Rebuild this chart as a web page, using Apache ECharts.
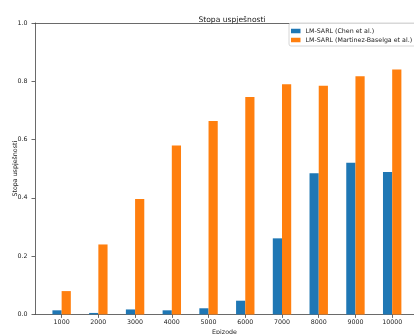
<!DOCTYPE html>
<html><head><meta charset="utf-8">
<script src="https://cdn.jsdelivr.net/npm/echarts@6/dist/echarts.min.js"></script>
<style>html,body{margin:0;padding:0;background:#fff}#c{width:414px;height:334px}</style>
</head><body><div id="c"></div>
<script>
const episodes = [1000, 2000, 3000, 4000, 5000, 6000, 7000, 8000, 9000, 10000];
const chenValues = [0.014, 0.005, 0.017, 0.014, 0.021, 0.047, 0.261, 0.484, 0.520, 0.489];
const martinezValues = [0.080, 0.240, 0.396, 0.580, 0.664, 0.746, 0.790, 0.785, 0.817, 0.840];
const yTicks = [0, 0.2, 0.4, 0.6, 0.8, 1.0];
const seriesNames = ['LM-SARL (Chen et al.)', 'LM-SARL (Martinez-Baselga et al.)'];
const titleText = 'Stopa uspješnosti';
const xName = 'Epizode';
const yName = 'Stopa uspješnosti';

const FONT = 'DejaVu Sans';
const axisCol = '#444';
const txtCol = '#222';
const xMin = 275, xMax = 10594;
const chart = echarts.init(document.getElementById('c'), null, {renderer: 'canvas'});
chart.setOption({
  animation: false,
  backgroundColor: '#fff',
  textStyle: {fontFamily: FONT},
  title: {
    text: titleText, left: 227, top: 11, textAlign: 'center',
    textStyle: {fontFamily: FONT, fontSize: 7.6, fontWeight: 'normal', color: txtCol}
  },
  legend: {
    data: seriesNames, orient: 'vertical', left: 289, top: 23,
    itemWidth: 9.5, itemHeight: 4.5, itemGap: 1, icon: 'rect',
    padding: [4, 8, 2, 2],
    borderColor: '#ccc', borderWidth: 0.8, borderRadius: 2,
    backgroundColor: 'rgba(255,255,255,0.8)',
    textStyle: {fontFamily: FONT, fontSize: 6.3, lineHeight: 8, color: txtCol}
  },
  grid: {left: 35, top: 23, right: 0, height: 291.4, containLabel: false, outerBoundsMode: 'none'},
  xAxis: [{
    type: 'value', min: xMin, max: xMax,
    name: xName, nameLocation: 'middle', nameGap: 12,
    nameTextStyle: {fontFamily: FONT, fontSize: 6.3, color: txtCol},
    splitLine: {show: false},
    axisLine: {show: true, lineStyle: {color: axisCol, width: 0.8}},
    axisTick: {show: true, length: 3.5, customValues: episodes, lineStyle: {color: axisCol, width: 0.8}},
    axisLabel: {customValues: episodes, formatter: v => String(v), margin: 4.5, fontFamily: FONT, fontSize: 6.3, color: txtCol}
  }, {
    type: 'value', min: xMin, max: xMax, position: 'top',
    splitLine: {show: false},
    axisLine: {show: true, lineStyle: {color: axisCol, width: 0.8}},
    axisTick: {show: false}, axisLabel: {show: false}
  }],
  yAxis: {
    type: 'value', min: 0, max: 1, interval: 0.2,
    name: yName, nameLocation: 'middle', nameGap: 17, nameRotate: 90, nameMoveOverlap: false,
    nameTextStyle: {fontFamily: FONT, fontSize: 6.3, color: txtCol},
    splitLine: {show: false},
    axisLine: {show: true, lineStyle: {color: axisCol, width: 0.8}},
    axisTick: {show: true, length: 3.5, lineStyle: {color: axisCol, width: 0.8}},
    axisLabel: {formatter: v => v.toFixed(1), margin: 7.5, fontFamily: FONT, fontSize: 6.3, color: txtCol}
  },
  series: [
    {name: seriesNames[0], type: 'bar', barWidth: 9.2, barGap: '0%',
     itemStyle: {color: '#1f77b4'}, data: episodes.map((e, i) => [e, chenValues[i]])},
    {name: seriesNames[1], type: 'bar', barWidth: 9.2, barGap: '0%',
     itemStyle: {color: '#ff7f0e'}, data: episodes.map((e, i) => [e, martinezValues[i]])}
  ]
});
</script></body></html>
